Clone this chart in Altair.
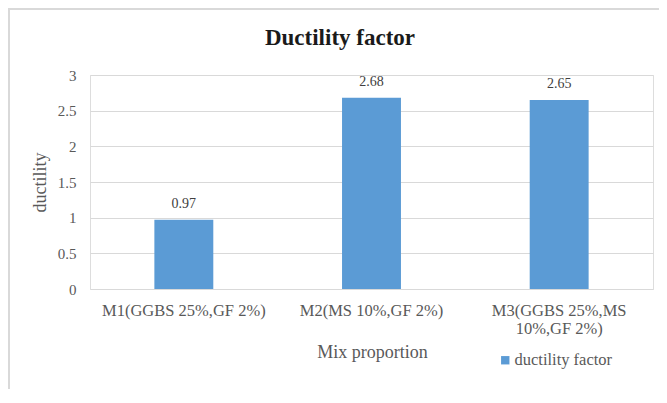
import altair as alt
import pandas as pd

categories = ["M1(GGBS 25%,GF 2%)", "M2(MS 10%,GF 2%)", "M3(GGBS 25%,MS 10%,GF 2%)"]
values = [0.97, 2.68, 2.65]
series_name = "ductility factor"
y_ticks = [0, 0.5, 1, 1.5, 2, 2.5, 3]
chart_title = "Ductility factor"

df = pd.DataFrame({"mix": categories, "ductility": values, "series": [series_name] * 3})

SERIF = "Liberation Serif"
BLUE = "#5B9BD5"
GRID = "#D9D9D9"
LABEL = "#595959"

x_enc = alt.X(
    "mix:N",
    sort=categories,
    scale=alt.Scale(paddingInner=0, paddingOuter=0),
    axis=alt.Axis(
        title="Mix proportion",
        titleFont=SERIF, titleFontSize=18, titleFontWeight="normal", titleColor=LABEL,
        titleX=282, titleY=63, titleBaseline="middle", titleAlign="center",
        labelFont=SERIF, labelFontSize=16.5, labelColor=LABEL, labelAngle=0,
        labelPadding=13, labelLineHeight=18, labelBaseline="top",
        labelExpr="split(replace(datum.label, ',MS ', ',MS|'), '|')",
        ticks=False, tickSize=0, domain=False, grid=False,
    ),
)
y_enc = alt.Y(
    "ductility:Q",
    scale=alt.Scale(domain=[0, 3], nice=False),
    axis=alt.Axis(
        title="ductility", values=y_ticks, format="~g", labelOverlap=False,
        titleFont=SERIF, titleFontSize=18, titleFontWeight="normal", titleColor=LABEL,
        titleX=-50, titleY=107, titleAngle=-90, titleBaseline="middle", titleAlign="center",
        labelFont=SERIF, labelFontSize=15, labelColor=LABEL, labelPadding=14,
        ticks=False, tickSize=0, domain=False, grid=True, gridColor=GRID, gridWidth=1,
    ),
)

bars = alt.Chart(df).mark_bar(width=alt.RelativeBandSize(0.314)).encode(
    x=x_enc,
    y=y_enc,
    color=alt.Color(
        "series:N",
        scale=alt.Scale(range=[BLUE]),
        legend=alt.Legend(
            title=None, orient="none", legendX=407, legendY=277,
            symbolType="square", symbolSize=70, symbolStrokeWidth=0,
            labelFont=SERIF, labelFontSize=16.5, labelColor=LABEL, labelOffset=1,
            padding=0, offset=0,
        ),
    ),
)

labels = alt.Chart(df).mark_text(
    font=SERIF, fontSize=14, color="#404040", baseline="alphabetic", dy=-12
).encode(
    x=x_enc,
    y=y_enc,
    text=alt.Text("ductility:Q", format=".2f"),
)

title_mark = alt.Chart(pd.DataFrame({"t": [chart_title]})).mark_text(
    font=SERIF, fontSize=23, fontWeight="bold", color="#1A1A1A",
    align="center", baseline="alphabetic",
).encode(x=alt.value(250), y=alt.value(-30), text="t:N")

frame = alt.Chart(pd.DataFrame({"f": [0]})).mark_rect(
    fill=None, stroke=GRID, strokeWidth=2
).encode(
    x=alt.value(-81), x2=alt.value(600), y=alt.value(-66), y2=alt.value(400)
)

chart = alt.layer(frame, bars, labels, title_mark).properties(
    width=563,
    height=214,
    autosize=alt.AutoSizeParams(type="none"),
    padding={"left": 82, "top": 67, "right": 6, "bottom": 100},
).configure_view(stroke=None).configure(background="white")

chart.save("out.html", embed_options={"renderer": "svg", "actions": False})
